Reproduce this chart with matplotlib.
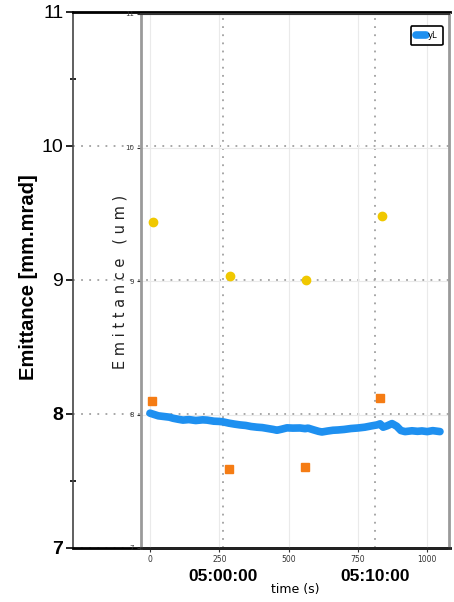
import matplotlib.pyplot as plt
from matplotlib.ticker import FixedLocator

W, H = 454, 602

# beam emittance trace, time in seconds
t_trace = [0, 15, 30, 50, 70, 83, 100, 119, 140, 165, 190, 206, 230, 250, 263,
           285, 305, 325, 345, 365, 386, 405, 425, 445, 458, 475, 494, 515, 541,
           560, 570, 590, 608, 620, 640, 660, 678, 700, 725, 750, 775, 800, 819,
           830, 841, 855, 873, 890, 905, 920, 945, 965, 981, 1000, 1020, 1046]
e_trace = [8.01, 8.00, 7.99, 7.985, 7.98, 7.972, 7.965, 7.958, 7.962, 7.955,
           7.96, 7.958, 7.95, 7.948, 7.945, 7.935, 7.928, 7.922, 7.918, 7.91,
           7.905, 7.902, 7.895, 7.888, 7.882, 7.89, 7.9, 7.898, 7.899, 7.894,
           7.898, 7.885, 7.874, 7.869, 7.876, 7.882, 7.884, 7.888, 7.895, 7.899,
           7.905, 7.915, 7.922, 7.93, 7.905, 7.915, 7.932, 7.912, 7.88, 7.872,
           7.878, 7.874, 7.877, 7.872, 7.879, 7.872]

# point measurements
sq_t = [7, 285, 559, 830]
sq_e = [8.10, 7.59, 7.61, 8.12]
dot_t = [12, 288, 563, 836]
dot_e = [9.44, 9.04, 9.01, 9.49]

out_yticks = [7, 8, 9, 10, 11]
out_ywts = ['bold', 'bold', 'normal', 'normal', 'normal']
out_xticks = [300, 310]
out_xlabels = ['05:00:00', '05:10:00']
in_xticks = [0, 250, 500, 750, 1000]
in_yticks = [7, 8, 9, 10, 11]

fig = plt.figure(figsize=(W / 100, H / 100), dpi=100)


def box(l, t, r, b):
    return [l / W, 1 - b / H, (r - l) / W, (b - t) / H]


# outer frame (clock time)
ax0 = fig.add_axes(box(73, 12, 450, 548))
ax0.set_xlim(290.13, 314.93)
ax0.set_ylim(7, 11)
ax0.yaxis.set_major_locator(FixedLocator(out_yticks))
ax0.yaxis.set_minor_locator(FixedLocator([7.5, 10.5]))
ax0.set_yticklabels([str(v) for v in out_yticks], fontsize=14,
                    family='Liberation Sans')
for lab, w in zip(ax0.get_yticklabels(), out_ywts):
    lab.set_fontweight(w)
ax0.tick_params(axis='y', which='major', length=5, width=1.2, pad=2)
ax0.tick_params(axis='y', which='minor', length=4, width=1.2, direction='inout')
ax0.xaxis.set_major_locator(FixedLocator(out_xticks))
ax0.set_xticklabels(out_xlabels, fontsize=12.5, fontweight='bold',
                    family='Liberation Sans')
ax0.tick_params(axis='x', length=0, pad=15)
ax0.grid(True, color='#a0a0a0', linestyle=(0, (1, 3.5)), linewidth=1.3)
ax0.spines['right'].set_visible(False)
ax0.spines['left'].set_color('#444444')
ax0.spines['left'].set_linewidth(1.2)
ax0.spines['top'].set_linewidth(2)
ax0.spines['bottom'].set_linewidth(2)
fig.text(29 / W, 1 - 277 / H, 'Emittance [mm.mrad]', rotation=90,
         fontsize=14.5, fontweight='bold', family='Liberation Sans',
         ha='center', va='center')

# inner plot (elapsed seconds)
ax1 = fig.add_axes(box(141, 14, 449, 548))
ax1.patch.set_alpha(0)
ax1.set_xlim(-32.5, 1078.6)
ax1.set_ylim(7, 11)
ax1.xaxis.set_major_locator(FixedLocator(in_xticks))
ax1.yaxis.set_major_locator(FixedLocator(in_yticks))
ax1.set_xticklabels([str(v) for v in in_xticks], fontsize=5.5,
                    family='Liberation Sans Narrow', color='#333333')
ax1.set_yticklabels([str(v) for v in in_yticks], fontsize=5,
                    family='DejaVu Sans', color='#333333')
ax1.tick_params(axis='both', length=3, width=0.8, pad=2, colors='#333333')
ax1.grid(True, color='#eaeaea', linewidth=0.8)
ax1.set_axisbelow(True)
for s in ['left', 'right']:
    ax1.spines[s].set_color('#9a9a9a')
    ax1.spines[s].set_linewidth(2)
ax1.spines['top'].set_color('#333333')
ax1.spines['top'].set_linewidth(1.5)
ax1.spines['bottom'].set_color('#222222')
ax1.spines['bottom'].set_linewidth(2)

ax1.plot(t_trace, e_trace, color='#1e90f0', linewidth=5.5,
         solid_capstyle='round', label='yL')
ax1.plot(sq_t, sq_e, 's', color='#f57c14', markersize=6, linestyle='none')
ax1.plot(dot_t, dot_e, 'o', color='#f0c800', markersize=6, linestyle='none')

leg = ax1.legend(loc='upper right', bbox_to_anchor=(447 / W, 1 - 22 / H),
                 bbox_transform=fig.transFigure, fontsize=6, handlelength=1.2,
                 handletextpad=0.3, borderpad=0.6, fancybox=True, framealpha=1)
leg.get_frame().set_edgecolor('black')
leg.get_frame().set_linewidth(1.2)

fig.text(295 / W, 1 - 590 / H, 'time (s)', fontsize=9,
         family='Liberation Sans Narrow', ha='center', va='center')
fig.text(120 / W, 1 - 282 / H, 'E m i t t a n c e   ( u m )', rotation=90,
         fontsize=10.5, family='DejaVu Sans', color='#222222',
         ha='center', va='center')

fig.savefig('out.png', dpi=100)
